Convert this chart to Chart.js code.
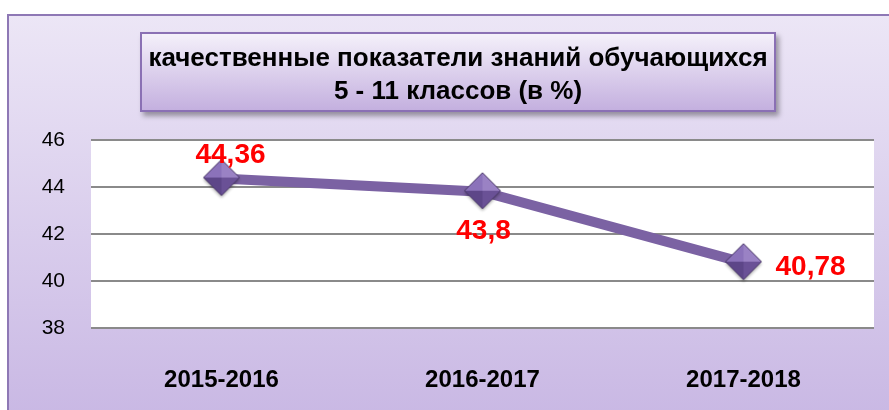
<!DOCTYPE html>
<html lang="ru">
  <head>
    <meta charset="UTF-8" />
    <title>Качественные показатели</title>
    <script src="https://cdn.jsdelivr.net/npm/chart.js"></script>
    <style>
      body { margin: 0; background: #fff; }
      .wrap { position: relative; width: 889px; height: 410px; overflow: hidden; background: #fff; }
      .frame {
        position: absolute; left: 7px; top: 14px; width: 890px; height: 400px;
        border-left: 2px solid #8e78b5; border-top: 2px solid #8e78b5;
        background: linear-gradient(#ece6f6, #c9b8e4);
      }
      .frame canvas { position: absolute; left: 0; top: 0; }
      .title {
        position: absolute; left: 131px; top: 16px; width: 636px; height: 80px;
        border: 2px solid #8a70b4;
        background: linear-gradient(#f4f0fa, #c4b0df);
        box-shadow: 3px 4px 5px rgba(0, 0, 0, 0.35);
        font: bold 26px "Liberation Sans", sans-serif;
        text-align: center; line-height: 33px; padding-top: 7px; box-sizing: border-box;
        color: #000;
      }
    </style>
  </head>
  <body>
    <div class="wrap">
      <div class="frame">
        <canvas id="myChart" width="880" height="394"></canvas>
        <div class="title">качественные показатели знаний обучающихся<br />5 - 11 классов (в %)</div>
      </div>
    </div>

    <script>
      "use strict";
      const years = ["2015-2016", "2016-2017", "2017-2018"];
      const values = [44.36, 43.8, 40.78];
      const valueLabels = ["44,36", "43,8", "40,78"];
      const yTicks = [38, 40, 42, 44, 46];

      // diamond marker with shaded facets
      function makeDiamond(r) {
        const pad = 4;
        const c = document.createElement("canvas");
        c.width = c.height = 2 * r + pad * 2;
        const g = c.getContext("2d");
        const cx = r + pad, cy = r + pad - 1;
        g.shadowColor = "rgba(0,0,0,0.35)";
        g.shadowOffsetY = 2;
        g.shadowBlur = 3;
        g.beginPath();
        g.moveTo(cx, cy - r); g.lineTo(cx + r, cy); g.lineTo(cx, cy + r); g.lineTo(cx - r, cy);
        g.closePath();
        g.fillStyle = "#7a60a8";
        g.fill();
        g.shadowColor = "transparent";
        const facets = [
          [[cx, cy - r], [cx + r, cy], "#9a82c4"],
          [[cx + r, cy], [cx, cy + r], "#6a5196"],
          [[cx, cy + r], [cx - r, cy], "#5d4688"],
          [[cx - r, cy], [cx, cy - r], "#8b72ba"],
        ];
        facets.forEach(([a, b, col]) => {
          g.beginPath();
          g.moveTo(cx, cy); g.lineTo(a[0], a[1]); g.lineTo(b[0], b[1]);
          g.closePath();
          g.fillStyle = col;
          g.fill();
        });
        g.beginPath();
        g.moveTo(cx, cy - r); g.lineTo(cx + r, cy); g.lineTo(cx, cy + r); g.lineTo(cx - r, cy);
        g.closePath();
        g.strokeStyle = "#4a3868";
        g.lineWidth = 1;
        g.stroke();
        return c;
      }
      const diamond = makeDiamond(18);

      const plotBg = {
        id: "plotBg",
        beforeDraw(chart) {
          const { ctx, chartArea: a } = chart;
          ctx.save();
          ctx.fillStyle = "#ffffff";
          ctx.fillRect(a.left, a.top, a.right - a.left, a.bottom - a.top);
          ctx.restore();
        },
      };

      // offsets of each value label from its point: [dx, dy, align]
      const labelPos = [[9, -23, "center"], [1, 40, "center"], [32, 5, "left"]];
      const valueText = {
        id: "valueText",
        afterDatasetsDraw(chart) {
          const { ctx } = chart;
          const meta = chart.getDatasetMeta(0);
          ctx.save();
          ctx.fillStyle = "#ff0000";
          ctx.font = "bold 28px 'Liberation Sans', Arial, sans-serif";
          ctx.textBaseline = "middle";
          meta.data.forEach((pt, i) => {
            const [dx, dy, al] = labelPos[i];
            ctx.textAlign = al;
            ctx.fillText(valueLabels[i], pt.x + dx, pt.y + dy);
          });
          ctx.restore();
        },
      };

      new Chart(document.getElementById("myChart"), {
        type: "line",
        data: {
          labels: years,
          datasets: [
            {
              data: values,
              borderColor: "#7b62a3",
              borderWidth: 10,
              pointStyle: diamond,
              pointRadius: 18,
              tension: 0,
              clip: false,
            },
          ],
        },
        options: {
          responsive: false,
          animation: false,
          layout: { autoPadding: false, padding: { top: 124, right: 15, left: 0, bottom: 0 } },
          scales: {
            x: {
              offset: true,
              grid: { display: false },
              border: { display: false },
              ticks: {
                padding: 30,
                color: "#000",
                font: { family: "'Liberation Sans', Arial, sans-serif", size: 24, weight: "bold" },
              },
              afterFit(s) {
                s.height = 82;
                s.paddingLeft = 0;
                s.paddingRight = 0;
              },
            },
            y: {
              min: 38,
              max: 46,
              afterBuildTicks(s) { s.ticks = yTicks.map((v) => ({ value: v })); },
              grid: { color: "#8a8a8a", lineWidth: 2, drawTicks: false },
              border: { display: false },
              ticks: {
                padding: 26,
                color: "#000",
                font: { family: "'Liberation Sans', Arial, sans-serif", size: 21 },
              },
              afterFit(s) { s.width = 82; },
            },
          },
          plugins: { legend: { display: false }, tooltip: { enabled: false } },
        },
        plugins: [plotBg, valueText],
      });
    </script>
  </body>
</html>
